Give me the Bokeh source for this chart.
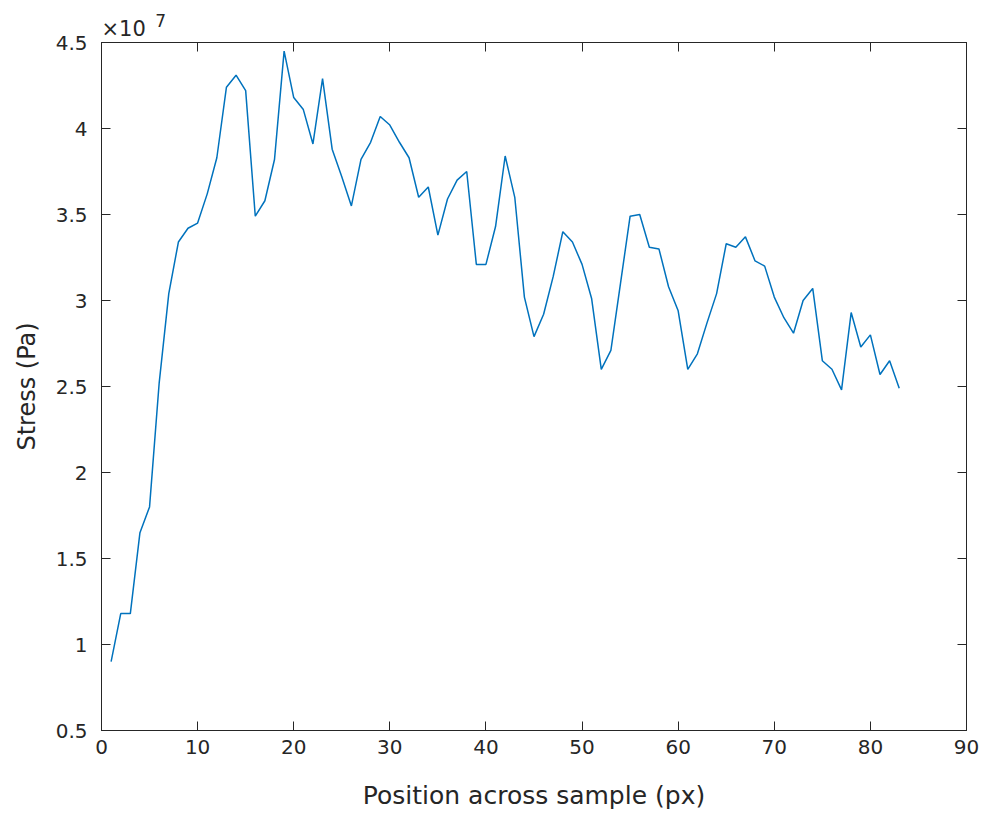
from bokeh.plotting import figure
from bokeh.models import (Range1d, FixedTicker, LinearAxis,
                          CustomJSTickFormatter)
from bokeh.embed import file_html
from bokeh.resources import INLINE

# Data (stress in units of 1e7 Pa, as displayed on the axis)
position = list(range(1, 84))
stress_e7 = [
    0.90, 1.18, 1.18, 1.65, 1.80, 2.52, 3.04, 3.34, 3.42, 3.45,
    3.62, 3.83, 4.24, 4.31, 4.22, 3.49, 3.58, 3.82, 4.45, 4.18,
    4.11, 3.91, 4.29, 3.88, 3.72, 3.55, 3.82, 3.92, 4.07, 4.02,
    3.92, 3.83, 3.60, 3.66, 3.38, 3.59, 3.70, 3.75, 3.21, 3.21,
    3.43, 3.84, 3.60, 3.02, 2.79, 2.92, 3.14, 3.40, 3.34, 3.21,
    3.01, 2.60, 2.71, 3.10, 3.49, 3.50, 3.31, 3.30, 3.08, 2.94,
    2.60, 2.69, 2.87, 3.04, 3.33, 3.31, 3.37, 3.23, 3.20, 3.02,
    2.90, 2.81, 3.00, 3.07, 2.65, 2.60, 2.48, 2.93, 2.73, 2.80,
    2.57, 2.65, 2.49,
]
x_ticks = [0, 10, 20, 30, 40, 50, 60, 70, 80, 90]
y_ticks = [0.5, 1, 1.5, 2, 2.5, 3, 3.5, 4, 4.5]
x_label = "Position across sample (px)"
y_label = "Stress (Pa)"
exponent_base = "\u00d710"
exponent_power = "7"

TXT = "#262626"
FONT = "DejaVu Sans"
TICK_FS = "20px"

W, H = 980, 812
p = figure(width=W, height=H, output_backend="svg", toolbar_location=None,
           x_range=Range1d(0, 90), y_range=Range1d(0.5, 4.5),
           min_border_left=101, min_border_right=14,
           min_border_top=42, min_border_bottom=82)
p.grid.visible = False
p.outline_line_color = TXT
p.outline_line_width = 1
p.background_fill_color = "white"
p.border_fill_color = "white"

p.line(position, stress_e7, line_color="#0072BD", line_width=1.5)

fmt = CustomJSTickFormatter(code="return tick.toString();")

for ax, ticks in ((p.xaxis[0], x_ticks), (p.yaxis[0], y_ticks)):
    ax.ticker = FixedTicker(ticks=ticks)
    ax.formatter = fmt
    ax.minor_tick_line_color = None
    ax.major_tick_in = 9
    ax.major_tick_out = 0
    ax.major_tick_line_color = TXT
    ax.axis_line_color = TXT
    ax.major_label_text_font = FONT
    ax.major_label_text_font_size = TICK_FS
    ax.major_label_text_color = TXT
    ax.axis_label_text_font = FONT
    ax.axis_label_text_font_style = "normal"
    ax.axis_label_text_color = TXT

p.xaxis[0].major_label_standoff = 9
p.yaxis[0].major_label_standoff = 14
p.xaxis[0].axis_label = x_label
p.yaxis[0].axis_label = y_label
p.xaxis[0].axis_label_text_font_size = "25px"
p.yaxis[0].axis_label_text_font_size = "24px"
p.xaxis[0].axis_label_standoff = 24
p.yaxis[0].axis_label_standoff = 12

# mirrored ticks on top and right (box style)
blank = CustomJSTickFormatter(code="return '';")
for side, ticks in (("above", x_ticks), ("right", y_ticks)):
    a = LinearAxis(ticker=FixedTicker(ticks=ticks), formatter=blank)
    a.major_tick_in = 9
    a.major_tick_out = 0
    a.minor_tick_line_color = None
    a.major_tick_line_color = TXT
    a.axis_line_color = TXT
    a.major_label_standoff = 0
    p.add_layout(a, side)

# exponent "x10^7" drawn as labels of two tick-less axes above the frame
def exponent_axis(anchor, text, size, standoff):
    a = LinearAxis(ticker=FixedTicker(ticks=[anchor]),
                   formatter=CustomJSTickFormatter(args=dict(t=text),
                                                   code="return t;"))
    a.axis_line_color = None
    a.major_tick_line_color = None
    a.minor_tick_line_color = None
    a.major_tick_in = 0
    a.major_tick_out = 0
    a.major_label_text_font = FONT
    a.major_label_text_font_size = size
    a.major_label_text_color = TXT
    a.major_label_standoff = standoff
    p.add_layout(a, "above")

exponent_axis(2.3, exponent_base, "21px", 2)
exponent_axis(6.15, exponent_power, "17px", -13)

open("out.html", "w").write(file_html(p, INLINE))
